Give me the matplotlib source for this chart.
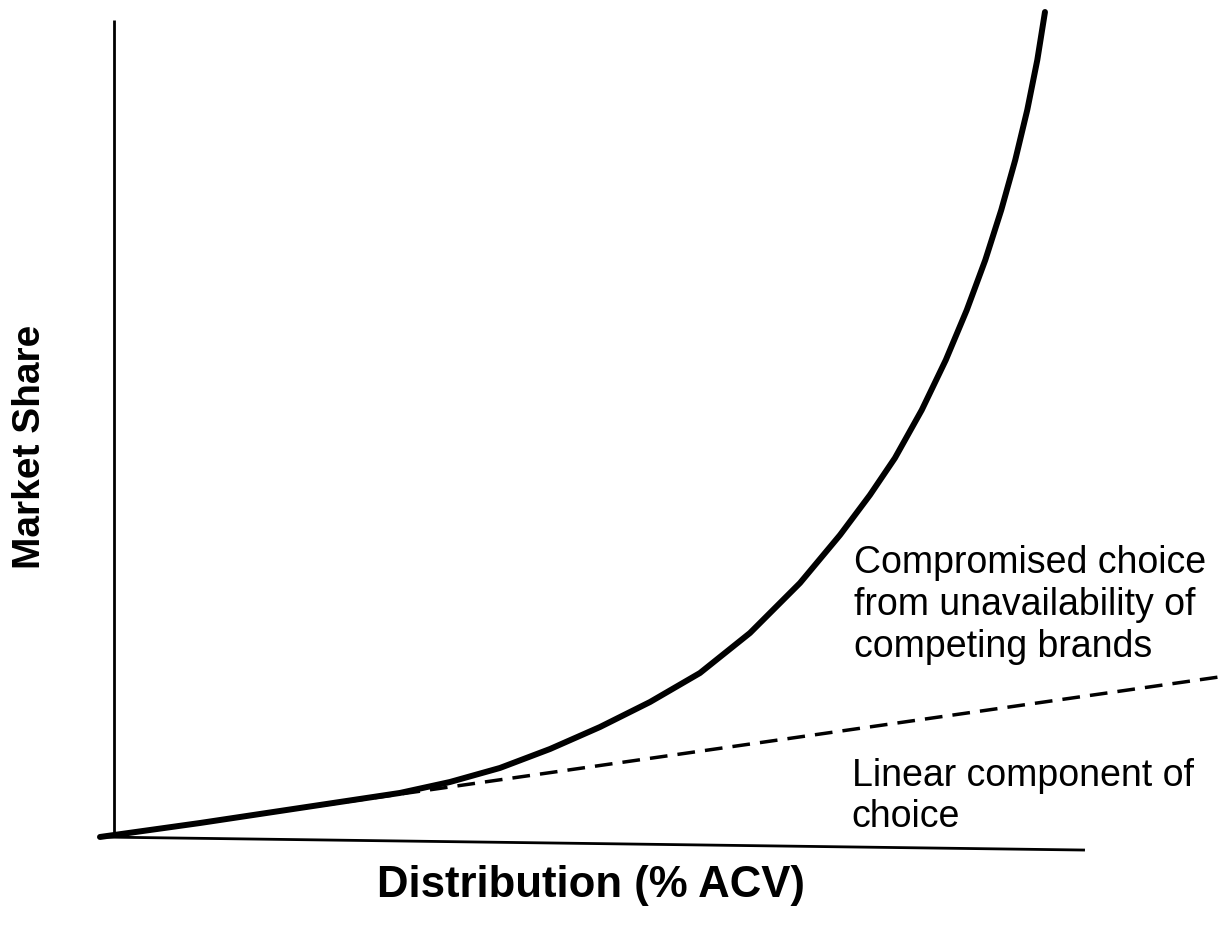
import matplotlib.pyplot as plt
import numpy as np

plt.rcParams['font.family'] = ['Liberation Sans', 'DejaVu Sans']

# market share curve (x = distribution %ACV, y = market share, arbitrary units)
acv = [0, 10.15, 20.30, 30.46, 35.53, 40.61, 45.69, 50.76, 55.84, 60.91,
       65.99, 71.07, 75.13, 78.17, 80.71, 83.43, 85.87, 88.00, 89.88, 91.50,
       92.92, 94.14, 95.16, 95.94]
share = [0, 1.71, 3.55, 5.39, 6.73, 8.45, 10.77, 13.46, 16.52, 20.07,
         24.97, 31.09, 36.96, 41.86, 46.39, 52.26, 58.38, 64.50, 70.62, 76.74,
         82.86, 88.98, 95.10, 100.98]

# linear component of choice
lin_acv = [0, 113.7]
lin_share = [0, 19.6]

# axis lines
yaxis_x = [1.4, 1.4]
yaxis_y = [0, 100]
xaxis_x = [-0.2, 100]
xaxis_y = [0, -1.6]

label_top = "Compromised choice\nfrom unavailability of\ncompeting brands"
label_bottom = "Linear component of\nchoice"

fig = plt.figure(figsize=(12.27, 9.4), dpi=100)
ax = fig.add_axes([0, 0, 1, 1])
ax.set_xlim(-10.15, 114.42)
ax.set_ylim(-12.61, 102.45)
ax.axis('off')

ax.plot(yaxis_x, yaxis_y, color='black', lw=2.0, solid_capstyle='butt')
ax.plot(xaxis_x, xaxis_y, color='black', lw=2.0, solid_capstyle='butt')

ax.plot(lin_acv, lin_share, color='black', lw=2.5, dashes=(5.1, 2.9))
ax.plot(acv, share, color='black', lw=4.3, solid_capstyle='round',
        solid_joinstyle='round')

ax.text(76.6, 35.7, label_top, fontsize=27, va='top', ha='left',
        linespacing=1.2)
ax.text(76.3, 9.7, label_bottom, fontsize=27, va='top', ha='left',
        linespacing=1.2)

fig.text(591 / 1227, 1 - 886 / 940, "Distribution (% ACV)", fontsize=31.5,
         fontweight='bold', ha='center', va='center')
fig.text(30 / 1227, 1 - 447 / 940, "Market Share", fontsize=28,
         fontweight='bold', ha='center', va='center', rotation=90)

fig.savefig('out.png', dpi=100)
